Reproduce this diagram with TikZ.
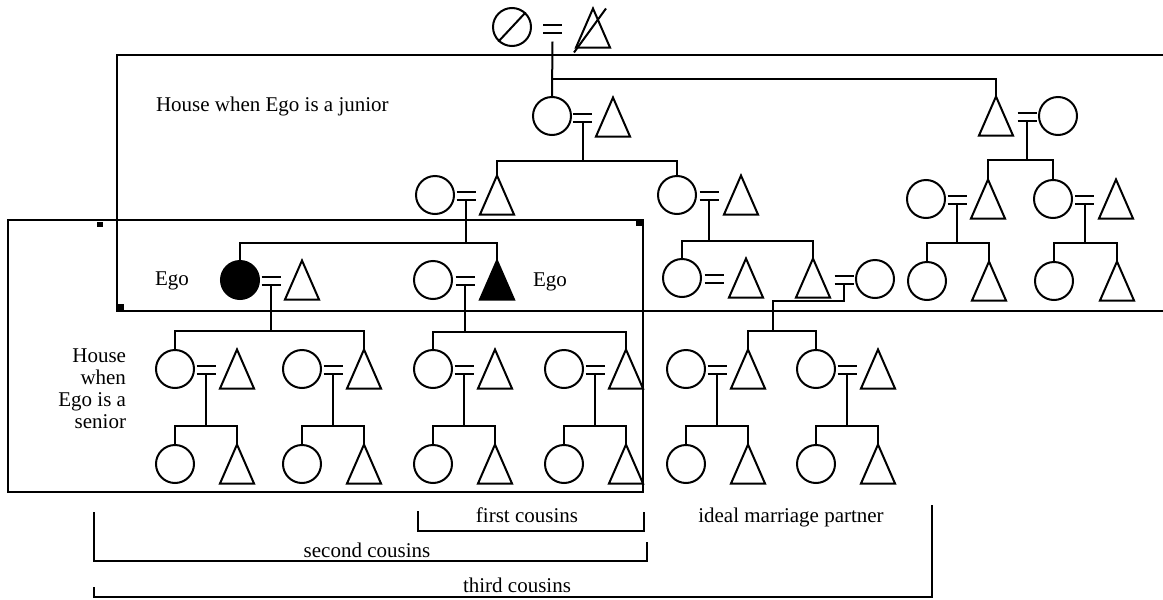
\documentclass[tikz,border=0pt]{standalone}
\usepackage{fontspec}
\setmainfont{Liberation Serif}
\usetikzlibrary{calc}

\tikzset{
    fem/.style={circle, draw, minimum size=38pt, inner sep=0pt},
    mal/.style={minimum width=32pt, minimum height=37pt, inner sep=0pt},
    bond/.style={minimum width=17pt, minimum height=6pt, inner sep=0pt},
    house/.style={line width=2.6pt},
    lbl/.style={font=\fontsize{21}{22}\selectfont, inner sep=0pt},
}

% a man: empty node, triangle drawn on its anchors
\newcommand\male[3][]{%
    \node[mal] (#2) at (#3) {};
    \draw[#1] (#2.south west) -- (#2.north) -- (#2.south east) -- cycle;}
% marriage sign between two spouses
\newcommand\wed[3]{%
    \node[bond] (#1) at ($(#2)!0.5!(#3)+(0,1)$) {};
    \draw (#1.north west) -- (#1.north east) (#1.south west) -- (#1.south east);}
% line of descent: bond, drop, first and last child
\newcommand\kids[4]{%
    \draw (#1.south) -- ++(0,#2) coordinate (k#1);
    \draw (#3.north) |- (k#1) -| (#4.north);}

\begin{document}
\begin{tikzpicture}[x=1pt, y=-1pt, line width=2pt]
    \useasboundingbox (0,0) rectangle (1163,600);

    % houses
    \draw[house] (1163,55) -- (117,55) -- (117,311) -- (1163,311);
    \draw[house] (8,220) rectangle (643,492);
    \fill (97,222) rectangle (103,227);
    \fill (118,304) rectangle (124,310);
    \fill (636,221) rectangle (642,226);

    % founding couple
    \node[fem] (f0) at (512,27) {};
    \male{m0}{593,28}
    \wed{b0}{f0}{m0}
    \draw (f0.227) -- (f0.47);
    \draw ($(m0.south west)+(-2,5)$) -- ($(m0.north)+(13,0)$);

    % first generation
    \node[fem] (f1) at (552,116) {};
    \male{m1}{613,117}
    \wed{b1}{f1}{m1}
    \male{m1r}{996,116}
    \node[fem] (f1r) at (1058,116) {};
    \wed{b1r}{m1r}{f1r}
    \draw ([yshift=-9pt]b0.south) -- (f1.north);
    \draw ($(b0.south)+(0,46)$) -| (m1r.north);

    % second generation
    \node[fem] (f2a) at (435,195) {};
    \male{m2a}{497,195}
    \wed{b2a}{f2a}{m2a}
    \node[fem] (f2b) at (677,195) {};
    \male{m2b}{741,195}
    \wed{b2b}{f2b}{m2b}
    \node[fem] (f2c) at (926,199) {};
    \male{m2c}{988,199}
    \wed{b2c}{f2c}{m2c}
    \node[fem] (f2d) at (1053,199) {};
    \male{m2d}{1116,199}
    \wed{b2d}{f2d}{m2d}
    \kids{b1}{39}{m2a}{f2b}
    \kids{b1r}{39}{m2c}{f2d}

    % Ego's generation
    \node[fem, fill] (egof) at (240,280) {};
    \male{m3a}{302,280}
    \wed{b3a}{egof}{m3a}
    \node[fem] (f3b) at (433,280) {};
    \male[fill]{egom}{497,280}
    \wed{b3b}{f3b}{egom}
    \node[fem] (f3c) at (682,278) {};
    \male{m3c}{746,278}
    \wed{b3c}{f3c}{m3c}
    \male{m3d}{813,278}
    \node[fem] (f3d) at (875,279) {};
    \wed{b3d}{m3d}{f3d}
    \node[fem] (f3e) at (927,281) {};
    \male{m3e}{989,281}
    \node[fem] (f3f) at (1054,281) {};
    \male{m3f}{1117,281}
    \kids{b2a}{43}{egof}{egom}
    \kids{b2b}{41}{f3c}{m3d}
    \kids{b2c}{39}{f3e}{m3e}
    \kids{b2d}{39}{f3f}{m3f}

    % two younger generations
    \foreach \n/\x in {a/175, b/302, c/433, d/564, e/686, f/816} {
        \node[fem] (f4\n) at (\x,369) {};
        \male{m4\n}{\x+62,369}
        \wed{b4\n}{f4\n}{m4\n}
        \node[fem] (f5\n) at (\x,464) {};
        \male{m5\n}{\x+62,464}
        \kids{b4\n}{52}{f5\n}{m5\n}
    }
    \kids{b3a}{46}{f4a}{m4b}
    \kids{b3b}{47}{f4c}{m4d}
    \coordinate (j3d) at (773,331);
    \draw (b3d.south) -- ++(0,17) -| (j3d);
    \draw (m4e.north) |- (j3d) -| (f4f.north);

    % labels
    \node[lbl, anchor=base west] (junior) at (155,111) {House when Ego is a junior};
    \node[lbl, anchor=north east, align=right] (senior) at (127,348) {House\\when\\Ego is a\\senior};
    \node[lbl, anchor=base] (egol) at (172,285) {Ego};
    \node[lbl, anchor=base] (egor) at (550,286) {Ego};

    % cousin brackets
    \draw (418,511) -- (418,531) -- (644,531) -- (644,512);
    \draw (94,512) -- (94,561) -- (647,561) -- (647,542);
    \draw (94,587) -- (94,597) -- (932,597) -- (932,505);
    \node[lbl, anchor=base] (first) at (527,522) {first cousins};
    \node[lbl, anchor=base] (second) at (367,557) {second cousins};
    \node[lbl, anchor=base] (third) at (517,592) {third cousins};
    \node[lbl, anchor=base] (ideal) at (791,522) {ideal marriage partner};
\end{tikzpicture}
\end{document}
